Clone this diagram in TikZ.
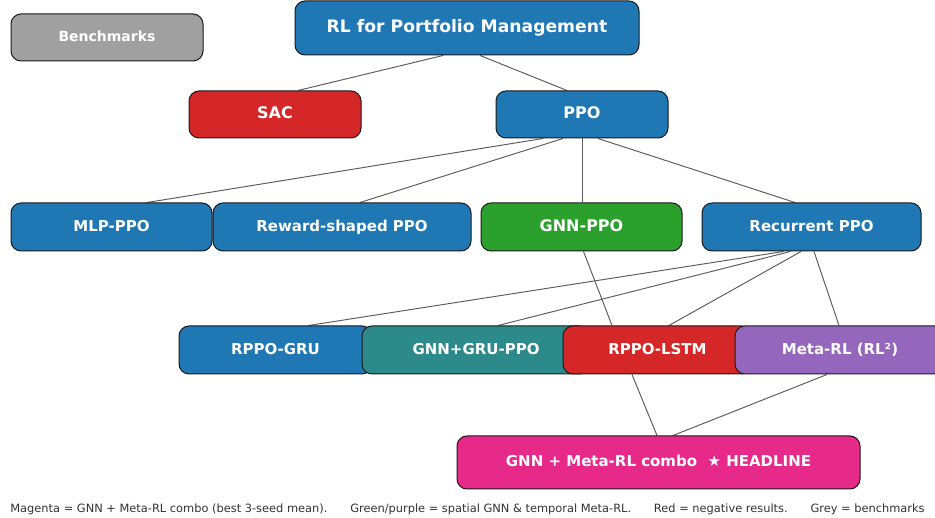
\documentclass[tikz,border=0pt]{standalone}
\usepackage{fontspec}
\setmainfont{DejaVu Sans}
\usetikzlibrary{backgrounds,calc}
\definecolor{cblue}{HTML}{1F77B4}
\definecolor{cred}{HTML}{D62728}
\definecolor{cgreen}{HTML}{2CA02C}
\definecolor{cpurple}{HTML}{9467BD}
\definecolor{cgrey}{HTML}{A0A0A0}
\definecolor{cteal}{HTML}{2C8B8A}
\definecolor{cmag}{HTML}{E7298A}
\definecolor{cedge}{HTML}{5A5A5A}
\definecolor{ccap}{HTML}{333333}
\tikzset{
  box/.style={draw=black!90, line width=1pt, rounded corners=10pt, text=white,
    font=\fontsize{15}{17}\selectfont\bfseries, inner sep=0pt,
    text height=0.9em, text depth=0em},
  bigbox/.style={box, font=\fontsize{16}{18}\selectfont\bfseries},
  edge/.style={draw=cedge, line width=0.95pt},
}
\begin{document}
\begin{tikzpicture}[x=1pt,y=-1pt]
\useasboundingbox (0,0) rectangle (935,518);
\begin{scope}
\clip (0,0) rectangle (935,518);
\node[box, fill=cgrey, minimum width=192pt, minimum height=47pt, font=\fontsize{14}{16}\selectfont\bfseries] (bench) at (107,37.5) {Benchmarks};
\node[box, fill=cblue, minimum width=344pt, minimum height=54pt, font=\fontsize{17.2}{19}\selectfont\bfseries] (rl) at (467,28) {RL for Portfolio Management};
\node[bigbox, fill=cred, minimum width=172pt, minimum height=47pt] (sac) at (275,114.5) {SAC};
\node[bigbox, fill=cblue, minimum width=172pt, minimum height=47pt] (ppo) at (582,114.5) {PPO};
\node[box, fill=cblue, minimum width=201pt, minimum height=48pt] (mlp) at (111.5,227) {MLP-PPO};
\node[box, fill=cblue, minimum width=258pt, minimum height=48pt] (rew) at (342,227) {Reward-shaped PPO};
\node[bigbox, fill=cgreen, minimum width=201pt, minimum height=48pt] (gnn) at (581.5,227) {GNN-PPO};
\node[box, fill=cblue, minimum width=219pt, minimum height=48pt] (rec) at (811.5,227) {Recurrent PPO};
\node[box, fill=cblue, minimum width=193pt, minimum height=48pt] (gru) at (275.5,350) {RPPO-GRU};
\node[box, fill=cteal, minimum width=228pt, minimum height=48pt] (gnngru) at (476,350) {GNN+GRU-PPO};
\node[box, fill=cred, minimum width=189pt, minimum height=48pt] (lstm) at (657.5,350) {RPPO-LSTM};
\node[box, fill=cpurple, minimum width=210pt, minimum height=48pt] (meta) at (840,350) {Meta-RL (RL²)};
\node[box, fill=cmag, minimum width=403pt, minimum height=53pt] (head) at (658.5,462.5) {GNN + Meta-RL combo\ \ ★ HEADLINE};
\node[text=ccap, font=\fontsize{11.4}{13}\selectfont, inner sep=0pt] (cap) at (467.5,509) {Magenta = GNN + Meta-RL combo (best 3-seed mean).\hspace{2em}Green/purple = spatial GNN \& temporal Meta-RL.\hspace{2em}Red = negative results.\hspace{2em}Grey = benchmarks};
\end{scope}
\begin{pgfonlayer}{background}
\draw[edge] ($(rl.south)+(-24,0)$) -- ($(sac.north)+(23,0)$);
\draw[edge] ($(rl.south)+(13,0)$) -- ($(ppo.north)+(-15,0)$);
\draw[edge] ($(ppo.south)+(-39,0)$) -- ($(mlp.north)+(35.5,0)$);
\draw[edge] ($(ppo.south)+(-19,0)$) -- ($(rew.north)+(18,0)$);
\draw[edge] ($(ppo.south)+(0,0)$) -- ($(gnn.north)+(0.5,0)$);
\draw[edge] ($(ppo.south)+(16,0)$) -- ($(rec.north)+(-16.5,0)$);
\draw[edge] ($(rec.south)+(-28,0)$) -- ($(gru.north)+(33,0)$);
\draw[edge] ($(rec.south)+(-21,0)$) -- ($(gnngru.north)+(22,0)$);
\draw[edge] ($(rec.south)+(-10.5,0)$) -- ($(lstm.north)+(11.5,0)$);
\draw[edge] ($(rec.south)+(2.5,0)$) -- ($(meta.north)+(-1,0)$);
\draw[edge] ($(gnn.south)+(2,0)$) -- ($(lstm.north)+(-45.5,0)$);
\draw[edge] ($(lstm.south)+(-25.5,0)$) -- ($(head.north)+(-1.5,0)$);
\draw[edge] ($(meta.south)+(-13,0)$) -- ($(head.north)+(14.5,0)$);
\end{pgfonlayer}
\end{tikzpicture}
\end{document}
